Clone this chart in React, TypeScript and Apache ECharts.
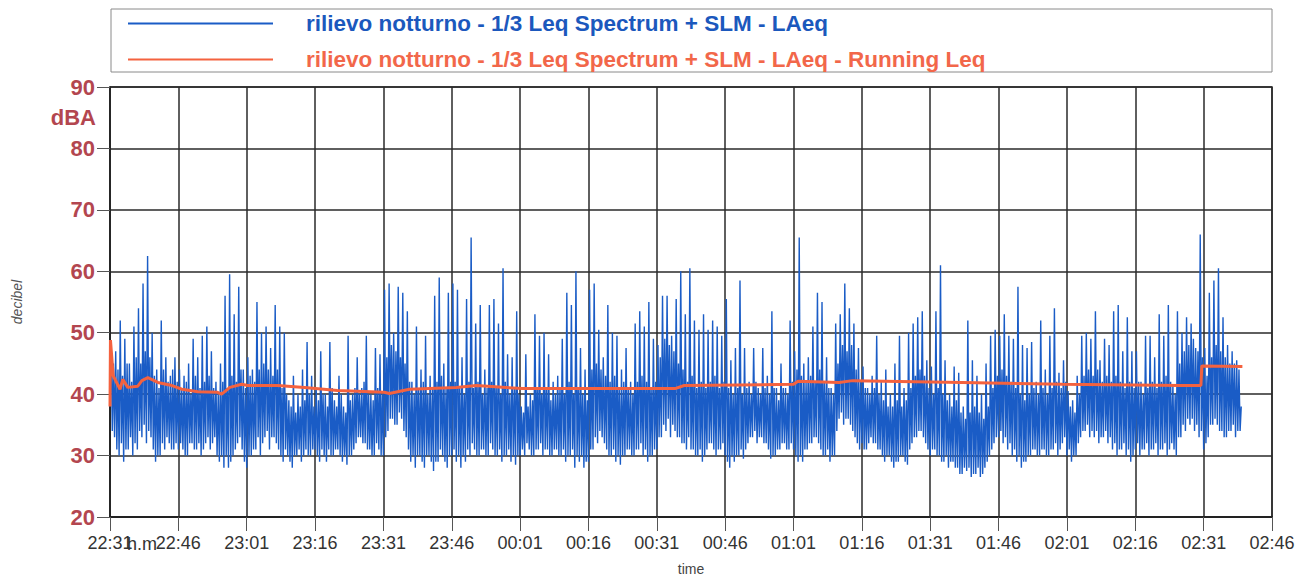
import React, { useEffect, useRef } from "react";
import * as echarts from "echarts";

// x tick labels (every 15 minutes from 22:31)
const xTickLabels = [
  "22:31", "22:46", "23:01", "23:16", "23:31", "23:46", "00:01", "00:16", "00:31",
  "00:46", "01:01", "01:16", "01:31", "01:46", "02:01", "02:16", "02:31", "02:46",
];

// LAeq samples, one every 15 s, grouped per 15-minute block
const laeq2231 = [38,48,34,45, 33,47,31,44, 30,52,32,43, 29,49,31,45, 31,45,33,42, 30,51,32,46, 31,54,34,45, 33,58,35,47, 32,62.5,34,46, 33,50,31,43, 29,44,30,41, 30,52,32,44, 31,46,33,42, 32,43,31,44, 31,46,32,42];
const laeq2246 = [31,44,32,41, 31,43,30,42, 30,45,32,40, 32,49,31,43, 31,46,32,41, 30,49.5,31,42, 32,51,33,43, 31,47,32,41, 33,42,30,40, 29,45,30,42, 28,56,30,41, 28,59.5,29,43, 30,53,31,42, 32,57.5,33,44, 31,44,29,41];
const laeq2301 = [28,46,30,43, 30,44,31,42, 31,55,33,44, 30,50,32,45, 33,51,34,44, 31,47.5,33,43, 33,54.5,32,44, 31,51,30,41, 29,50,31,40, 30,39,29,38, 28,43,30,37, 30,40,31,38, 29,44,30,39, 31,48.5,30,40, 30,43,31,38];
const laeq2316 = [31,41,30,39, 29,47,31,40, 30,40,29,38, 31,48.5,30,41, 30,39,31,38, 31,43,30,40, 29,38,30,37, 28.5,49.5,30,39, 30,40,31,41, 32,46,33,40, 33,41,32,42, 32,49.5,31,40, 31,40,30,39, 30,47.5,32,41, 31,46.5,30,40];
const laeq2331 = [30,57,33,46, 34,58,36,48, 36,50,35,47, 35,57.5,37,46, 36,56.5,34,45, 33,53.5,31,42, 29,42,30,40, 28,51,30,41, 30,44,29,42, 28,49.5,30,40, 30,43,29,41, 27.5,56,29,42, 29,59,31,43, 30,45,29,41, 28,56.5,30,42];
const laeq2346 = [30,58,31,42, 29,57,30,41, 28,46,30,40, 29,55.5,31,42, 30,65.5,32,41, 31,51.5,30,42, 30,54.5,31,40, 31,44,30,41, 30,54.5,32,42, 31,55.5,30,41, 30,51.5,31,40, 29,60.5,30,42, 30,46.5,31,40, 29,46,30,41, 28.5,53.5,30,40];
const laeq0001 = [30,38,31,37, 30,46.5,32,38, 31,40,30,39, 30,53,31,41, 31,49.5,32,40, 30,50,31,41, 31,46.5,30,39, 30,42,31,40, 31,43,30,41, 30,49,31,40, 29,56.5,30,42, 30,54.5,31,40, 28,60,30,41, 29,47.5,30,40, 28,44,29,39];
const laeq0016 = [29,57,31,44, 31,58,33,45, 32,50.5,34,44, 33,46,32,43, 31,54.5,30,42, 30,50,31,43, 29,49.5,30,41, 28.5,44,30,42, 30,47.5,31,41, 31,42,30,40, 30,51.5,31,42, 31,53.5,32,43, 30,51,31,42, 29,55,30,41, 30,49,31,42];
const laeq0031 = [31,48,33,46, 33,56,35,49, 34,56,36,48, 33,49.5,35,47, 34,55.5,33,45, 33,60,32,44, 32,53,31,42, 33,60.5,31,43, 31,52,30,41, 30,50.5,31,42, 29,53,30,41, 31,50.5,32,42, 32,52,31,43, 30,51,31,41, 31,49.5,32,42];
const laeq0046 = [30,55.5,29,41, 28,45.5,30,40, 29,47.5,30,41, 30,58.5,31,40, 29.5,47.5,31,41, 32,42,33,40, 33,47.5,34,42, 32,41,33,40, 33,47.5,32,41, 32,43,31,40, 29.5,53.5,30,41, 30,41,31,39, 31,45,32,41, 32,41,31,40, 31,52,32,42];
const laeq0101 = [31,47,30,44, 29,65.5,30,43, 29,45,31,42, 31,46,32,43, 32,51,33,42, 33,56.5,32,44, 31,55,30,42, 30,46,31,41, 29,41,30,40, 30,51.5,34,45, 36,53,37,48, 35,58,36,47, 36,54,35,48, 34,51.5,33,44, 32,47.5,31,42];
const laeq0116 = [32,44.5,31,41, 31,41,32,40, 33,43,32,41, 32,49.5,31,40, 31,42,30,39, 29,44,30,38, 30,40,29,38, 28,45,29,39, 29,49.5,30,38, 30,41,29,39, 28.5,50,31,41, 32,51.5,33,43, 33,52.5,34,44, 34,53.5,33,43, 32,45.5,31,41];
const laeq0131 = [30,44.5,31,40, 31,53.5,30,41, 30,61,29,40, 29,45.5,30,39, 28,40,29,38, 29,44.5,28,39, 28,43.5,27,37, 27,38,28,36, 27.5,52,28,37, 26.5,45.5,27,38, 27,43,28,37, 26.5,40,27,36, 28,45,29,38, 30,49.5,31,41, 32,50.5,33,43];
const laeq0146 = [33,49.5,34,44, 32,53,33,43, 31,49.5,32,42, 30,49,31,41, 29,57.5,30,40, 28,48,29,39, 29,47.5,30,40, 30,48.5,31,41, 31,42,30,40, 30,52,31,41, 31,44,30,40, 30,49.5,31,41, 31,54,32,42, 30,43.5,31,41, 32,45.5,33,42];
const laeq0201 = [30,40.5,31,38, 29,39,30,37, 30,43,32,40, 33,49.5,34,43, 34,50,35,44, 33,49,34,43, 33,53.5,34,44, 32,45.5,33,42, 33,49,34,43, 32,48,33,42, 31,53.5,32,43, 30,54.5,31,42, 31,47,32,41, 30,52.5,31,42, 29,47,30,41];
const laeq0216 = [31,47,32,42, 30,42,31,40, 31,49.5,32,41, 30,49.5,31,42, 31,46,32,41, 30,53,31,42, 31,49.5,32,43, 30,54.5,31,42, 32,41.5,31,40, 30,53.5,33,45, 33,50,35,47, 34,52.5,36,48, 35,51.5,36,49, 34,47.5,35,47, 33,66,34,46];
const laeq0231 = [31,47.5,32,43, 33,56.5,35,46, 35,58.5,36,48, 35,60.5,34,47, 34,52.5,33,46, 33,48,34,45, 34,47,35,45, 33,45.5,34,44, 34,38];

// Running Leq: [minutes from 22:31, dB]
const runningLeq = [
  [0, 38], [0.1, 48.8], [0.7, 43], [2.2, 40.8], [2.8, 42.4], [3.9, 41.1], [6.1, 41.3],
  [7.0, 42.2], [8.3, 42.7], [10.5, 41.9], [13.6, 41.4], [15.8, 40.8], [19.3, 40.4],
  [23.6, 40.3], [24.5, 40.0], [26.3, 41.1], [28.9, 41.6], [30.2, 41.4], [36.8, 41.4],
  [42.7, 41.1], [49.9, 40.6], [60.2, 40.3], [61.3, 40.1], [65.7, 40.8], [76, 41.1],
  [80.4, 41.4], [90.5, 40.9], [105, 40.9], [124, 40.9], [126, 41.4], [150, 41.6],
  [151, 42.1], [160, 41.9], [163, 42.2], [187, 41.9], [209, 41.6], [235, 41.4],
  [239.4, 41.4], [239.6, 44.6], [248.5, 44.5],
];

const seriesNames = [
  "rilievo notturno - 1/3 Leq Spectrum + SLM - LAeq",
  "rilievo notturno - 1/3 Leq Spectrum + SLM - LAeq - Running Leq",
];

const FONT = "'Liberation Sans', Arial, Helvetica, sans-serif";
const BLUE = "#1a5cc6";
const RED = "#f4623f";
const MAROON = "#b3464f";

export default function App() {
  const ref = useRef<HTMLDivElement>(null);
  useEffect(() => {
    if (!ref.current) return;
    const chart = echarts.init(ref.current, undefined, { renderer: "svg" });
    const laeq = [
      ...laeq2231, ...laeq2246, ...laeq2301, ...laeq2316, ...laeq2331, ...laeq2346,
      ...laeq0001, ...laeq0016, ...laeq0031, ...laeq0046, ...laeq0101, ...laeq0116,
      ...laeq0131, ...laeq0146, ...laeq0201, ...laeq0216, ...laeq0231,
    ];
    const blueData = laeq.map((v, i) => [i * 0.25, v]);
    chart.setOption({
      animation: false,
      backgroundColor: "#ffffff",
      textStyle: { fontFamily: FONT },
      grid: { left: 110, right: 43, top: 87, bottom: 60, show: true, borderColor: "#2a2a2a", borderWidth: 1.5 },
      legend: {
        orient: "vertical",
        left: 127,
        top: 12,
        itemWidth: 145,
        itemHeight: 20,
        itemGap: 13,
        padding: 0,
        itemStyle: { opacity: 0 },
        data: [
          { name: seriesNames[0], textStyle: { color: "#1b58bd" } },
          { name: seriesNames[1], textStyle: { color: "#f2674a" } },
        ],
        textStyle: { fontSize: 22.5, fontWeight: "bold", fontFamily: FONT, padding: [0, 0, 0, 28] },
      },
      graphic: [
        { type: "rect", shape: { x: 111, y: 9, width: 1161, height: 63 }, style: { fill: "none", stroke: "#8a8a8a", lineWidth: 1 }, z: -1 },
        { type: "text", x: 96, y: 117, style: { text: "dBA", fill: MAROON, font: `bold 22px ${FONT}`, textAlign: "right", textVerticalAlign: "middle" } },
        { type: "text", x: 142, y: 535, style: { text: "h.m", fill: "#333", font: `18px ${FONT}`, textAlign: "center", textVerticalAlign: "top" } },
      ],
      xAxis: {
        type: "value",
        min: 0,
        max: 255,
        interval: 15,
        name: "time",
        nameLocation: "middle",
        nameGap: 45,
        nameTextStyle: { fontSize: 14, color: "#444", fontFamily: FONT },
        axisLine: { show: true, lineStyle: { color: "#222", width: 2 } },
        axisTick: { show: true, length: 14, lineStyle: { color: "#555", width: 1 } },
        axisLabel: {
          fontSize: 18,
          color: "#333",
          margin: 17,
          fontFamily: FONT,
          formatter: (v: number) => xTickLabels[Math.round(v / 15)] ?? "",
        },
        splitLine: { show: true, lineStyle: { color: "#2a2a2a", width: 1.5 } },
      },
      yAxis: {
        type: "value",
        min: 20,
        max: 90,
        interval: 10,
        name: "decibel",
        nameLocation: "middle",
        nameGap: 86,
        nameRotate: 90,
        nameTextStyle: { fontSize: 14, color: "#555", fontStyle: "italic", fontFamily: FONT },
        axisLine: { show: true, lineStyle: { color: "#222", width: 1.5 } },
        axisTick: { show: true, length: 13, lineStyle: { color: "#555", width: 1 } },
        axisLabel: { fontSize: 22, fontWeight: "bold", color: MAROON, margin: 15, fontFamily: FONT },
        splitLine: { show: true, lineStyle: { color: "#2a2a2a", width: 1.5 } },
      },
      series: [
        {
          name: seriesNames[0],
          type: "line",
          data: blueData,
          symbol: "none",
          lineStyle: { color: BLUE, width: 1.4 },
          itemStyle: { color: BLUE },
          z: 2,
        },
        {
          name: seriesNames[1],
          type: "line",
          data: runningLeq,
          symbol: "none",
          lineStyle: { color: RED, width: 3 },
          itemStyle: { color: RED },
          z: 3,
        },
      ],
    });
    return () => chart.dispose();
  }, []);
  return <div ref={ref} style={{ position: "fixed", left: 0, top: 0, width: 1315, height: 581 }} />;
}
